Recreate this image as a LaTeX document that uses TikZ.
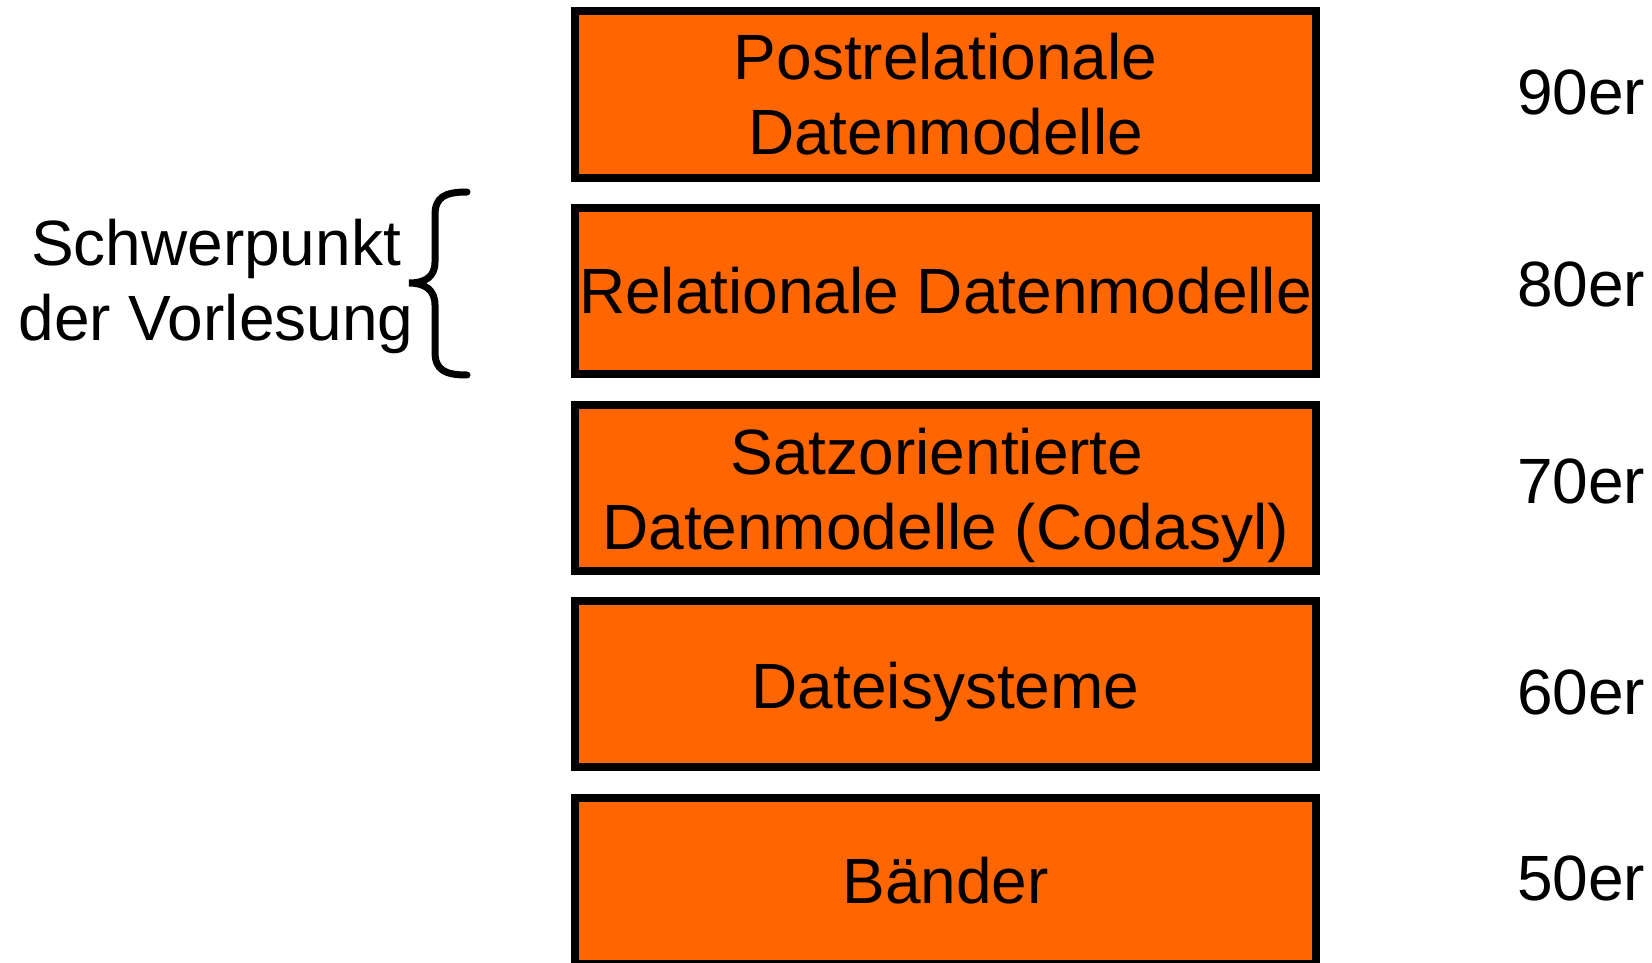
\documentclass[tikz,border=0pt]{standalone}
\usepackage{fontspec}
\setmainfont{Liberation Sans}
\begin{document}
\begin{tikzpicture}[x=1pt,y=-1pt,
  layer/.style={draw=black, fill=layerorange, line width=8pt,
    minimum width=741pt, minimum height=166pt, inner sep=0pt,
    align=center, font=\fontsize{64}{75}\selectfont},
  caption/.style={align=center, inner sep=0pt, font=\fontsize{64}{75}\selectfont},
  era/.style={anchor=west, inner sep=0pt, font=\fontsize{64}{75}\selectfont},
  note/.style={align=center, inner sep=0pt, font=\fontsize{64}{75}\selectfont}]
\definecolor{layerorange}{HTML}{FF6600}
\useasboundingbox (0,0) rectangle (1652,963);
% stacked layers of data models
\node[layer] (l90) at (945.5,94.5) {Postrelationale\\Datenmodelle};
\node[layer] (l80) at (945.5,291) {Relationale Datenmodelle};
\node[layer] (l70) at (945.5,487.5) {};
\node[caption] (t70) at ([yshift=-7.5pt]l70.center)
  {Satzorientierte\hspace*{17pt}\\Datenmodelle (Codasyl)};
\node[layer] (l60) at (945.5,684) {};
\node[caption] (t60) at ([yshift=-7.5pt]l60.center) {Dateisysteme};
\node[layer] (l50) at (945.5,880.5) {Bänder};
% decades
\node[era] (e90) at (1517,92) {90er};
\node[era] (e80) at (1517,284) {80er};
\node[era] (e70) at (1517,481) {70er};
\node[era] (e60) at (1517,692) {60er};
\node[era] (e50) at (1517,878) {50er};
% focus of the lecture
\node[note] (focus) at (216,286) {Schwerpunkt\\der Vorlesung};
\draw[line width=7pt, line cap=round]
  (467,192) .. controls (445,192) and (435,197) .. (435,215)
  -- (435,262) .. controls (435,277) and (425,283) .. (409,283)
  .. controls (425,283) and (435,290) .. (435,305)
  -- (435,352) .. controls (435,370) and (445,375) .. (467,375);
\end{tikzpicture}
\end{document}
